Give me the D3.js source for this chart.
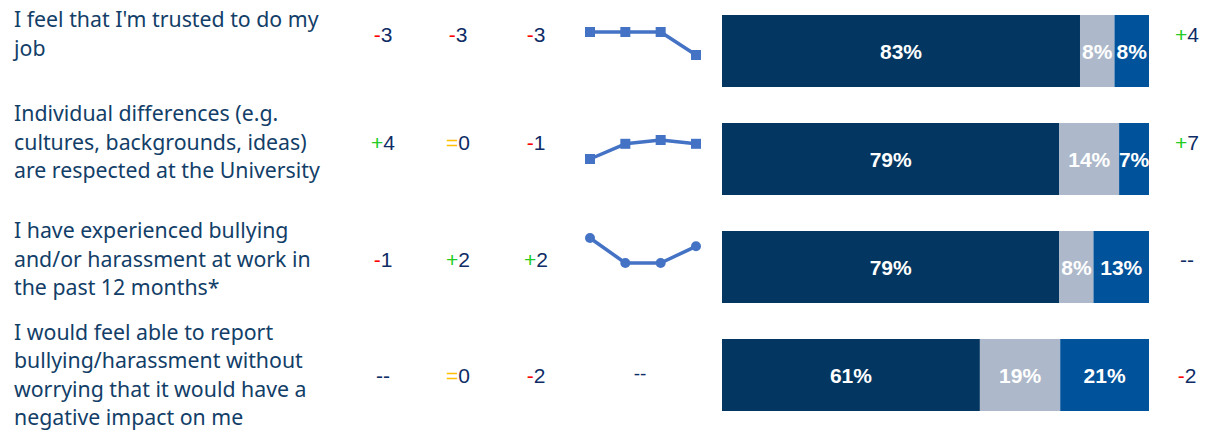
<!DOCTYPE html>
<html>
<head>
<meta charset="utf-8">
<script src="https://cdn.jsdelivr.net/npm/d3@7"></script>
<style>
	body { margin: 0; background: #fff; }
	svg { display: block; }
</style>
</head>
<body>
<svg id="chart"></svg>
<script>
// statements, already wrapped as in the source slide
const statements = [
	["I feel that I'm trusted to do my", "job"],
	["Individual differences (e.g.", "cultures, backgrounds, ideas)", "are respected at the University"],
	["I have experienced bullying", "and/or harassment at work in", "the past 12 months*"],
	["I would feel able to report", "bullying/harassment without", "worrying that it would have a", "negative impact on me"],
];
const rowKeys = ["trusted", "differences", "bullying", "report"];

// change columns (null = "--")
const change1 = [-3, 4, -1, null];
const change2 = [-3, 0, 2, 0];
const change3 = [-3, -1, 2, -2];
const sectorChange = [4, 7, null, -2];

// trend over the four survey waves
const waves = ["W1", "W2", "W3", "W4"];
const trend = [
	[86, 86, 86, 83],
	[75, 79, 80, 79],
	[80, 77, 77, 79],
	null,
];
const markerType = ["square", "square", "circle", null];

// stacked bar shares
const positive = [83, 79, 79, 61];
const neutral = [8, 14, 8, 19];
const negative = [8, 7, 13, 21];

const width = 1221;
const height = 430;
const svg = d3.select("#chart").attr("width", width).attr("height", height);

const textColor = "#123E68";
const numColor = "#0F2C66";
const segColors = ["#033660", "#ADB9CA", "#00529B"];
const sparkColor = "#4472C4";

// vertical middle of each table row (rows grow with the number of text lines)
const rowMid = [34, 142, 259, 375];
const lineH = 28.5;

// label column
statements.forEach((lines, i) => {
	const first = rowMid[i] - ((lines.length - 1) * lineH) / 2 + 7.5;
	const t = svg.append("text")
		.attr("x", 14)
		.attr("y", first)
		.attr("font-family", "Noto Sans, sans-serif")
		.attr("font-size", "21.3px")
		.attr("fill", textColor);
	lines.forEach((ln, j) => {
		t.append("tspan").attr("x", 14).attr("y", first + j * lineH).text(ln);
	});
});

// change numbers
function drawChange(values, cx) {
	values.forEach((v, i) => {
		const t = svg.append("text")
			.attr("x", cx)
			.attr("y", rowMid[i] + 7.5)
			.attr("text-anchor", "middle")
			.attr("font-family", "Liberation Sans, Arial, sans-serif")
			.attr("font-size", "21px")
			.attr("fill", numColor);
		if (v === null) {
			t.text("--");
			return;
		}
		let sign = "=", col = "#FFC000";
		if (v > 0) { sign = "+"; col = "#22CC22"; }
		if (v < 0) { sign = "-"; col = "#FF0000"; }
		t.append("tspan").attr("fill", col).text(sign);
		t.append("tspan").text(Math.abs(v));
	});
}
drawChange(change1, 383);
drawChange(change2, 458);
drawChange(change3, 536);
drawChange(sectorChange, 1187);

// sparklines
const xSpark = d3.scalePoint().domain(waves).range([590, 696]);
const sparkBox = [[32, 55], [140, 159], [238, 263], null];
trend.forEach((vals, i) => {
	if (!vals) {
		svg.append("text")
			.attr("x", 640)
			.attr("y", rowMid[i] + 5)
			.attr("text-anchor", "middle")
			.attr("font-family", "Liberation Sans, Arial, sans-serif")
			.attr("font-size", "19px")
			.attr("fill", numColor)
			.text("--");
		return;
	}
	const y = d3.scaleLinear()
		.domain(d3.extent(vals))
		.range([sparkBox[i][1], sparkBox[i][0]]);
	const pts = vals.map((v, k) => [xSpark(waves[k]), y(v)]);
	svg.append("path")
		.attr("d", d3.line()(pts))
		.attr("fill", "none")
		.attr("stroke", sparkColor)
		.attr("stroke-width", 3.5)
		.attr("stroke-linejoin", "round");
	const g = svg.append("g").attr("fill", sparkColor);
	if (markerType[i] === "square") {
		g.selectAll("rect").data(pts).join("rect")
			.attr("x", (d) => d[0] - 5)
			.attr("y", (d) => d[1] - 5)
			.attr("width", 10)
			.attr("height", 10);
	} else {
		g.selectAll("circle").data(pts).join("circle")
			.attr("cx", (d) => d[0])
			.attr("cy", (d) => d[1])
			.attr("r", 5);
	}
});

// stacked bars
const yBar = d3.scaleBand().domain(rowKeys).range([15, 411]).paddingInner(1 / 3).paddingOuter(0);
rowKeys.forEach((key, i) => {
	const parts = [positive[i], neutral[i], negative[i]];
	const total = d3.sum(parts);
	const x = d3.scaleLinear().domain([0, total]).range([722, 1149]);
	let acc = 0;
	parts.forEach((p, k) => {
		const x0 = x(acc), x1 = x(acc + p);
		acc += p;
		svg.append("rect")
			.attr("x", x0)
			.attr("y", yBar(key))
			.attr("width", x1 - x0)
			.attr("height", yBar.bandwidth())
			.attr("fill", segColors[k]);
		svg.append("text")
			.attr("x", (x0 + x1) / 2)
			.attr("y", yBar(key) + yBar.bandwidth() / 2 + 7.5)
			.attr("text-anchor", "middle")
			.attr("font-family", "Liberation Sans, Arial, sans-serif")
			.attr("font-weight", "bold")
			.attr("font-size", "21px")
			.attr("fill", "#fff")
			.text(p + "%");
	});
});
</script>
</body>
</html>
